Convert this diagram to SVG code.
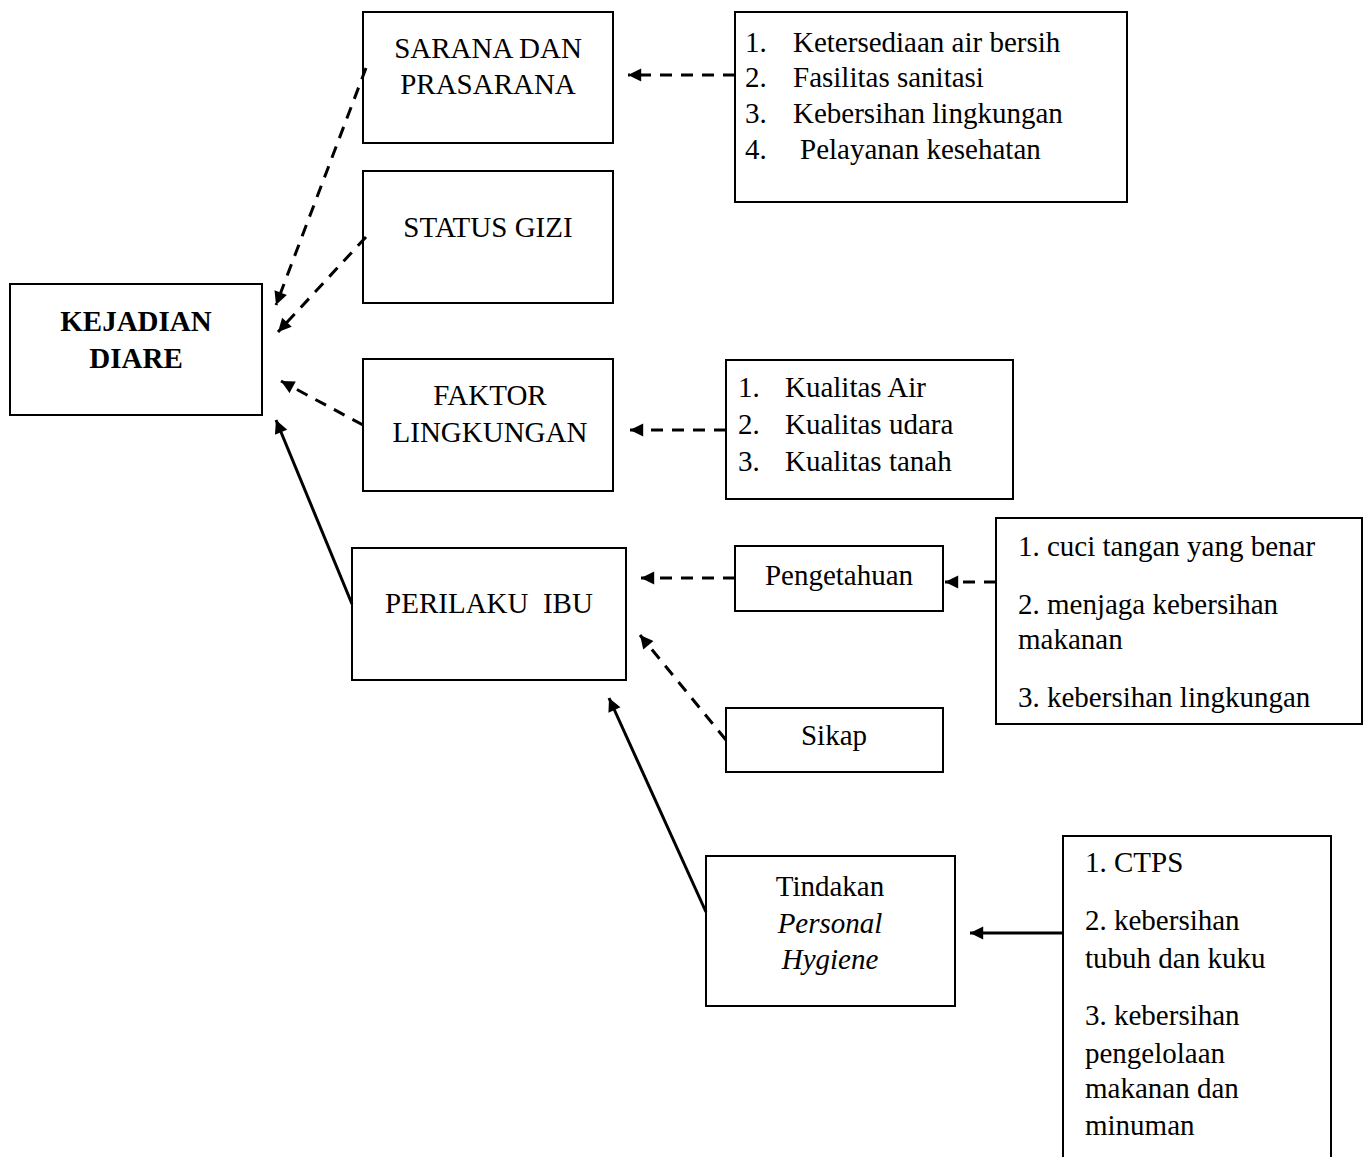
<svg xmlns="http://www.w3.org/2000/svg" width="1365" height="1157" viewBox="0 0 1365 1157">
<style>
.box{fill:#fff;stroke:#000;stroke-width:2}
text{font-family:"Liberation Serif","Times New Roman",serif;font-size:29px;fill:#000}
.c{text-anchor:middle}
.b{font-weight:bold}
.i{font-style:italic}
.ln{stroke:#000;stroke-width:3;fill:none}
.d{stroke-dasharray:12 9}
</style>
<defs>
<marker id="ah" viewBox="0 0 10 10" refX="10" refY="5" markerWidth="5" markerHeight="4.4" markerUnits="strokeWidth" orient="auto">
<path d="M0,0 L10,5 L0,10 z" fill="#000"/>
</marker>
</defs>
<rect width="1365" height="1157" fill="#fff"/>
<g id="kejadian">
<rect class="box" x="10" y="284" width="252" height="131"/>
<text class="c b" x="136" y="331">KEJADIAN</text>
<text class="c b" x="136" y="368">DIARE</text>
</g>
<g id="sarana">
<rect class="box" x="363" y="12" width="250" height="131"/>
<text class="c" x="488" y="58">SARANA DAN</text>
<text class="c" x="488" y="94">PRASARANA</text>
</g>
<g id="gizi">
<rect class="box" x="363" y="171" width="250" height="132"/>
<text class="c" x="488" y="237">STATUS GIZI</text>
</g>
<g id="faktor">
<rect class="box" x="363" y="359" width="250" height="132"/>
<text class="c" x="490" y="405">FAKTOR</text>
<text class="c" x="490" y="442">LINGKUNGAN</text>
</g>
<g id="perilaku">
<rect class="box" x="352" y="548" width="274" height="132"/>
<text class="c" x="489" y="613" xml:space="preserve">PERILAKU  IBU</text>
</g>
<g id="list-sarana">
<rect class="box" x="735" y="12" width="392" height="190"/>
<text x="745" y="52">1.</text><text x="793" y="52">Ketersediaan air bersih</text>
<text x="745" y="87">2.</text><text x="793" y="87">Fasilitas sanitasi</text>
<text x="745" y="123">3.</text><text x="793" y="123">Kebersihan lingkungan</text>
<text x="745" y="159">4.</text><text x="800" y="159">Pelayanan kesehatan</text>
</g>
<g id="list-kualitas">
<rect class="box" x="726" y="360" width="287" height="139"/>
<text x="738" y="397">1.</text><text x="785" y="397">Kualitas Air</text>
<text x="738" y="434">2.</text><text x="785" y="434">Kualitas udara</text>
<text x="738" y="471">3.</text><text x="785" y="471">Kualitas tanah</text>
</g>
<g id="pengetahuan">
<rect class="box" x="735" y="546" width="208" height="65"/>
<text class="c" x="839" y="585">Pengetahuan</text>
</g>
<g id="list-pengetahuan">
<rect class="box" x="996" y="518" width="366" height="206"/>
<text x="1018" y="556">1. cuci tangan yang benar</text>
<text x="1018" y="614">2. menjaga kebersihan</text>
<text x="1018" y="649">makanan</text>
<text x="1018" y="707">3. kebersihan lingkungan</text>
</g>
<g id="sikap">
<rect class="box" x="726" y="708" width="217" height="64"/>
<text class="c" x="834" y="745">Sikap</text>
</g>
<g id="tindakan">
<rect class="box" x="706" y="856" width="249" height="150"/>
<text class="c" x="830" y="896">Tindakan</text>
<text class="c i" x="830" y="933">Personal</text>
<text class="c i" x="830" y="969">Hygiene</text>
</g>
<g id="list-tindakan">
<rect class="box" x="1063" y="836" width="268" height="340"/>
<text x="1085" y="872">1. CTPS</text>
<text x="1085" y="930">2. kebersihan</text>
<text x="1085" y="968">tubuh dan kuku</text>
<text x="1085" y="1025">3. kebersihan</text>
<text x="1085" y="1063">pengelolaan</text>
<text x="1085" y="1098">makanan dan</text>
<text x="1085" y="1135">minuman</text>
</g>
<g id="connectors">
<line class="ln d" x1="366" y1="68" x2="276" y2="305" marker-end="url(#ah)"/>
<line class="ln d" x1="366" y1="237" x2="278" y2="332" marker-end="url(#ah)"/>
<line class="ln d" x1="363" y1="425" x2="281" y2="381" marker-end="url(#ah)"/>
<line class="ln" x1="352" y1="604" x2="276" y2="420" marker-end="url(#ah)"/>
<line class="ln d" x1="735" y1="75" x2="628" y2="75" marker-end="url(#ah)"/>
<line class="ln d" x1="726" y1="430" x2="630" y2="430" marker-end="url(#ah)"/>
<line class="ln d" x1="735" y1="578" x2="641" y2="578" marker-end="url(#ah)"/>
<line class="ln d" x1="726" y1="740" x2="640" y2="635" marker-end="url(#ah)"/>
<line class="ln d" x1="996" y1="582" x2="945" y2="582" marker-end="url(#ah)"/>
<line class="ln" x1="706" y1="912" x2="609" y2="698" marker-end="url(#ah)"/>
<line class="ln" x1="1063" y1="933" x2="970" y2="933" marker-end="url(#ah)"/>
</g>
</svg>
